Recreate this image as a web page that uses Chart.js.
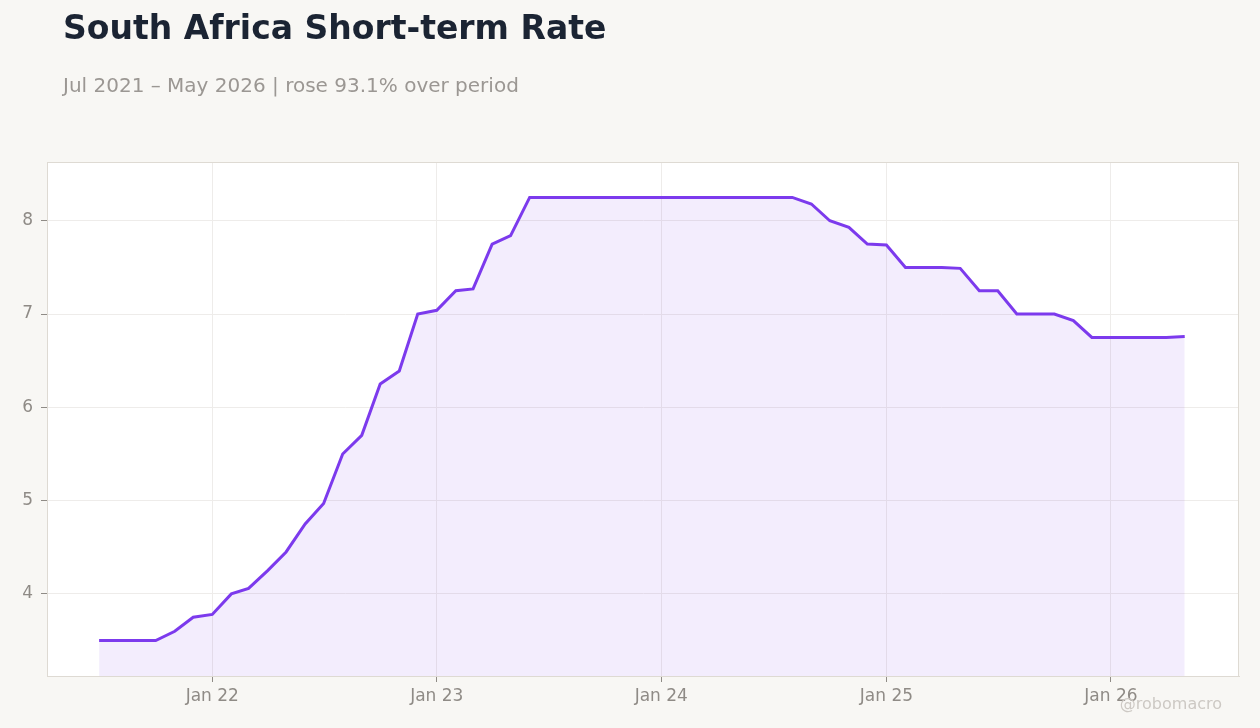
<!DOCTYPE html>
<html>
<head>
<meta charset="utf-8">
<script src="https://cdn.jsdelivr.net/npm/chart.js@4.4.1/dist/chart.umd.min.js"></script>
<style>
	html, body { margin: 0; padding: 0; background: #f8f7f4; }
	body { width: 1260px; height: 728px; position: relative; overflow: hidden; font-family: "DejaVu Sans", sans-serif; }
	#title { position: absolute; left: 63px; top: 8px; font-size: 33px; font-weight: bold; color: #1b2433; line-height: 1.2; }
	#subtitle { position: absolute; left: 63px; top: 73px; font-size: 20px; color: #9b9793; line-height: 1.2; }
	#mark { position: absolute; right: 38px; top: 694px; font-size: 16px; color: #cdc9c4; line-height: 1.2; }
	#wrap { position: absolute; left: 0; top: 0; width: 1260px; height: 728px; }
</style>
</head>
<body>
<div id="wrap"><canvas id="myChart" width="1260" height="728"></canvas></div>
<div id="title">South Africa Short-term Rate</div>
<div id="subtitle">Jul 2021 – May 2026 | rose 93.1% over period</div>
<div id="mark">@robomacro</div>
<script>
const months = [
	"2021-07", "2021-08", "2021-09", "2021-10", "2021-11", "2021-12",
	"2022-01", "2022-02", "2022-03", "2022-04", "2022-05", "2022-06",
	"2022-07", "2022-08", "2022-09", "2022-10", "2022-11", "2022-12",
	"2023-01", "2023-02", "2023-03", "2023-04", "2023-05", "2023-06",
	"2023-07", "2023-08", "2023-09", "2023-10", "2023-11", "2023-12",
	"2024-01", "2024-02", "2024-03", "2024-04", "2024-05", "2024-06",
	"2024-07", "2024-08", "2024-09", "2024-10", "2024-11", "2024-12",
	"2025-01", "2025-02", "2025-03", "2025-04", "2025-05", "2025-06",
	"2025-07", "2025-08", "2025-09", "2025-10", "2025-11", "2025-12",
	"2026-01", "2026-02", "2026-03", "2026-04", "2026-05"
];
const rates = [
	3.5, 3.5, 3.5, 3.5, 3.6, 3.75,
	3.78, 4.0, 4.06, 4.25, 4.45, 4.75,
	4.97, 5.5, 5.7, 6.25, 6.39, 7.0,
	7.04, 7.25, 7.27, 7.75, 7.84, 8.25,
	8.25, 8.25, 8.25, 8.25, 8.25, 8.25,
	8.25, 8.25, 8.25, 8.25, 8.25, 8.25,
	8.25, 8.25, 8.18, 8.0, 7.93, 7.75,
	7.74, 7.5, 7.5, 7.5, 7.49, 7.25,
	7.25, 7.0, 7.0, 7.0, 6.93, 6.75,
	6.75, 6.75, 6.75, 6.75, 6.76
];
const xTickMonths = ["2022-01", "2023-01", "2024-01", "2025-01", "2026-01"];
const xTickLabels = ["Jan 22", "Jan 23", "Jan 24", "Jan 25", "Jan 26"];
const yTicks = [4, 5, 6, 7, 8];

// days since epoch for the first of the month
function dayOf(m) {
	var parts = m.split("-");
	return Date.UTC(parseInt(parts[0]), parseInt(parts[1]) - 1, 1) / 86400000;
}

var points = [];
for (var i = 0; i < months.length; i++) {
	points.push({ x: dayOf(months[i]), y: rates[i] });
}
var tickPos = xTickMonths.map(dayOf);

var xSpan = points[points.length - 1].x - points[0].x;
var yLo = Math.min.apply(null, rates);
var yHi = Math.max.apply(null, rates);
var yPad = (yHi - yLo) * 0.08;

const areaFrame = {
	id: "areaFrame",
	beforeDraw: function (chart) {
		var a = chart.chartArea;
		var c = chart.ctx;
		c.save();
		c.fillStyle = "#ffffff";
		c.fillRect(a.left, a.top, a.right - a.left, a.bottom - a.top);
		c.restore();
	},
	afterDraw: function (chart) {
		var a = chart.chartArea;
		var c = chart.ctx;
		c.save();
		c.strokeStyle = "#dedad3";
		c.lineWidth = 1;
		c.strokeRect(a.left + 0.5, a.top + 0.5, a.right - a.left - 1, a.bottom - a.top);
		c.restore();
	}
};

Chart.defaults.font.family = "'DejaVu Sans', sans-serif";
Chart.defaults.font.size = 17;
Chart.defaults.color = "#8f8b86";

var ctx = document.getElementById("myChart").getContext("2d");
var myChart = new Chart(ctx, {
	type: "line",
	data: {
		datasets: [
			{
				label: "Short-term Rate",
				data: points,
				borderColor: "#7c3aed",
				backgroundColor: "rgba(124, 58, 237, 0.09)",
				borderWidth: 3,
				fill: "start",
				pointRadius: 0,
				tension: 0,
			},
		],
	},
	options: {
		responsive: false,
		animation: false,
		devicePixelRatio: 1,
		layout: { padding: { left: 0, right: 21, top: 162, bottom: 0 } },
		plugins: { legend: { display: false }, tooltip: { enabled: false } },
		scales: {
			x: {
				type: "linear",
				min: points[0].x - xSpan * 0.048,
				max: points[points.length - 1].x + xSpan * 0.05,
				afterBuildTicks: function (scale) {
					scale.ticks = tickPos.map(function (v) { return { value: v }; });
				},
				afterFit: function (scale) { scale.height = 52; },
				ticks: {
					padding: 4,
					maxRotation: 0,
					callback: function (v) {
						var k = tickPos.indexOf(v);
						return k >= 0 ? xTickLabels[k] : "";
					},
				},
				grid: { color: "#eeecea", tickColor: "#8f8b86", tickLength: 6 },
				border: { color: "#dedad3" },
			},
			y: {
				min: yLo - yPad,
				max: yHi + yPad,
				afterBuildTicks: function (scale) {
					scale.ticks = yTicks.map(function (v) { return { value: v }; });
				},
				afterFit: function (scale) { scale.width = 47; },
				ticks: { padding: 8 },
				grid: { color: "#eeecea", tickColor: "#8f8b86", tickLength: 6 },
				border: { color: "#dedad3" },
			},
		},
	},
	plugins: [areaFrame],
});
</script>
</body>
</html>
